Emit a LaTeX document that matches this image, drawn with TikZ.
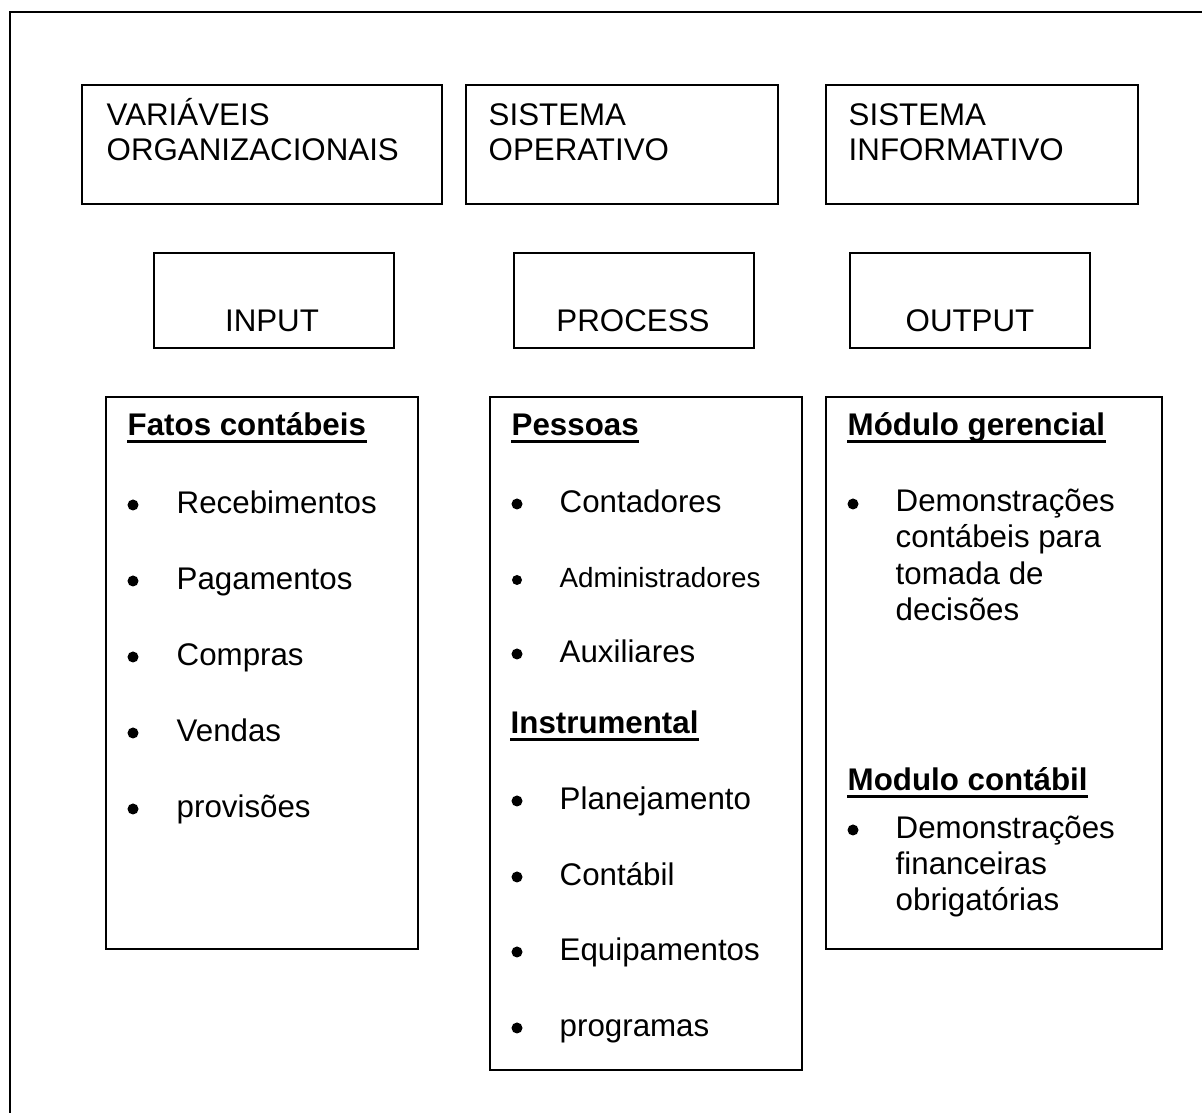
\documentclass[tikz,border=0pt]{standalone}
\usepackage{fontspec}
\setmainfont{Liberation Sans}
\usepackage{tikz}
\usetikzlibrary{calc}

\begin{document}
\begin{tikzpicture}[x=0.01cm,y=-0.01cm,
  font=\fontsize{8.9}{10}\selectfont,
  box/.style={draw=black, line width=0.02cm, inner sep=0pt},
  txt/.style={anchor=base west, inner sep=0pt},
  small/.style={txt, font=\fontsize{7.9}{9}\selectfont},
  head/.style={txt, font=\fontsize{8.9}{10}\selectfont\bfseries},
  uline/.style={line width=0.03cm}]
\useasboundingbox (0,0) rectangle (1202,1113);
\draw[line width=0.027cm] (10,1113) -- (10,12) -- (1202,12);

\node[box, minimum width=3.6cm, minimum height=1.19cm] (var) at (262,144.5) {};
\node[box, minimum width=3.12cm, minimum height=1.19cm] (oper) at (622,144.5) {};
\node[box, minimum width=3.12cm, minimum height=1.19cm] (info) at (982,144.5) {};
\node[txt] (tvar1) at (106,126) {VARIÁVEIS};
\node[txt] (tvar2) at (106,161) {ORGANIZACIONAIS};
\node[txt] (toper1) at (488,126) {SISTEMA};
\node[txt] (toper2) at (488,161) {OPERATIVO};
\node[txt] (tinfo1) at (848,126) {SISTEMA};
\node[txt] (tinfo2) at (848,161) {INFORMATIVO};

\node[box, minimum width=2.4cm, minimum height=0.95cm] (inp) at (274,300.5) {};
\node[box, minimum width=2.4cm, minimum height=0.95cm] (proc) at (634,300.5) {};
\node[box, minimum width=2.4cm, minimum height=0.95cm] (out) at (970,300.5) {};
\node[anchor=base, inner sep=0pt] (tinp) at (272,332) {INPUT};
\node[anchor=base, inner sep=0pt] (tproc) at (633,332) {PROCESS};
\node[anchor=base, inner sep=0pt] (tout) at (970,332) {OUTPUT};

\node[box, minimum width=3.12cm, minimum height=5.52cm] (fatos) at (262,673) {};
\node[box, minimum width=3.12cm, minimum height=6.73cm] (pess) at (646,733.5) {};
\node[box, minimum width=3.36cm, minimum height=5.52cm] (mod) at (994,673) {};

% input
\node[head] (hfatos) at (127,436) {Fatos contábeis};
\draw[uline] ($(hfatos.base west)+(0,6)$) -- ($(hfatos.base east)+(0,6)$);
\fill (133,505) circle (0.055cm);
\node[txt] (rec) at (176,514) {Recebimentos};
\fill (133,581) circle (0.055cm);
\node[txt] (pag) at (176,590) {Pagamentos};
\fill (133,657) circle (0.055cm);
\node[txt] (comp) at (176,666) {Compras};
\fill (133,733) circle (0.055cm);
\node[txt] (vend) at (176,742) {Vendas};
\fill (133,809) circle (0.055cm);
\node[txt] (prov) at (176,818) {provisões};

% process
\node[head] (hpess) at (511,436) {Pessoas};
\draw[uline] ($(hpess.base west)+(0,6)$) -- ($(hpess.base east)+(0,6)$);
\fill (517,504) circle (0.055cm);
\node[txt] (cont) at (559,513) {Contadores};
\fill (517,580) circle (0.05cm);
\node[small] (adm) at (559,588) {Administradores};
\fill (517,654) circle (0.055cm);
\node[txt] (aux) at (559,663) {Auxiliares};
\node[head] (hinst) at (510,734) {Instrumental};
\draw[uline] ($(hinst.base west)+(0,6)$) -- ($(hinst.base east)+(0,6)$);
\fill (517,801) circle (0.055cm);
\node[txt] (plan) at (559,810) {Planejamento};
\fill (517,877) circle (0.055cm);
\node[txt] (ctb) at (559,886) {Contábil};
\fill (517,952) circle (0.055cm);
\node[txt] (equip) at (559,961) {Equipamentos};
\fill (517,1028) circle (0.055cm);
\node[txt] (prog) at (559,1037) {programas};

% output
\node[head] (hger) at (847,436) {Módulo gerencial};
\draw[uline] ($(hger.base west)+(0,6)$) -- ($(hger.base east)+(0,6)$);
\fill (853,504) circle (0.055cm);
\node[txt] (dem1) at (895,512) {Demonstrações};
\node[txt] (dem2) at (895,548) {contábeis para};
\node[txt] (dem3) at (895,585) {tomada de};
\node[txt] (dem4) at (895,621) {decisões};
\node[head] (hcont) at (847,791) {Modulo contábil};
\draw[uline] ($(hcont.base west)+(0,6)$) -- ($(hcont.base east)+(0,6)$);
\fill (853,830) circle (0.055cm);
\node[txt] (fin1) at (895,839) {Demonstrações};
\node[txt] (fin2) at (895,875) {financeiras};
\node[txt] (fin3) at (895,911) {obrigatórias};
\end{tikzpicture}
\end{document}
